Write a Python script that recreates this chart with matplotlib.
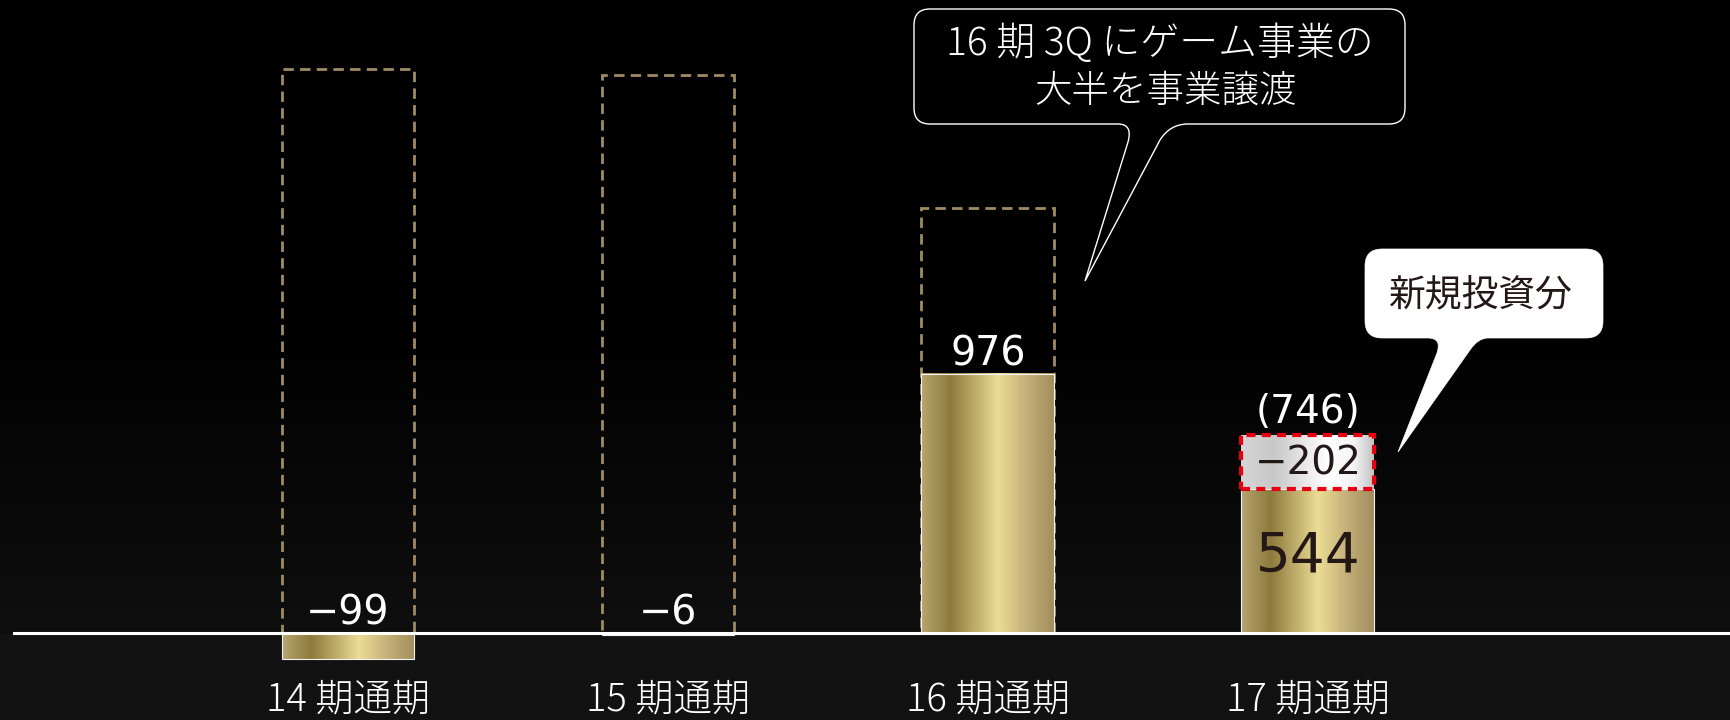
import numpy as np
import matplotlib
matplotlib.use("Agg")
import matplotlib.pyplot as plt
import matplotlib.transforms as mtransforms
from matplotlib.patches import Rectangle, PathPatch
from matplotlib.path import Path
from matplotlib.colors import LinearSegmentedColormap

# ---- data -------------------------------------------------------------
periods = ["14 期通期", "15 期通期", "16 期通期", "17 期通期"]
operating_profit = [-99, -6, 976, 544]
before_transfer = [2127, 2102, 1603, None]      # dashed outline (game business incl.)
new_investment = [0, 0, 0, 202]                  # stacked on top of the 17 bar
value_labels = ["−99", "−6", "976", "544"]
investment_label = "−202"
excl_investment_label = "(746)"
note_transfer = ["16 期 3Q にゲーム事業の", "大半を事業譲渡"]
note_investment = "新規投資分"

plt.rcParams["lines.scale_dashes"] = False

W, H, DPI = 1731, 720, 100
fig = plt.figure(figsize=(W / DPI, H / DPI), dpi=DPI)
fig.patch.set_facecolor("black")
ax = fig.add_axes([0, 0, 1, 1])
ax.axis("off")

# pixel coordinates (origin top-left) for the callouts
pix = mtransforms.Affine2D().scale(1 / DPI, -1 / DPI).translate(0, H / DPI) + fig.dpi_scale_trans

# background: black fading to dark grey towards the baseline
rows = np.arange(H)
shade = np.where(rows < 320, 0.0, np.clip((rows - 320) / (633 - 320), 0, 1) * 15 / 255)
shade = np.where(rows > 633, 18 / 255, shade)
bg = np.repeat(shade[:, None], 4, axis=1)
ax.imshow(np.dstack([bg, bg, bg]), extent=(0, 1, 0, 1), transform=ax.transAxes,
          aspect="auto", zorder=0, interpolation="bilinear")

gold = LinearSegmentedColormap.from_list(
    "gold", [(0, "#b8a570"), (0.22, "#8d7a3c"), (0.58, "#ecdc95"),
             (0.8, "#c4af78"), (1.0, "#a28e5e")])
silver = LinearSegmentedColormap.from_list(
    "silver", [(0, "#d6d6d6"), (0.25, "#c8c8c8"), (0.65, "#ffffff"),
               (0.85, "#f4f4f4"), (1.0, "#c2c2c2")])
grad = np.linspace(0, 1, 256)[None, :]

x = np.arange(len(periods))
w = 0.4156

for xi, v, b in zip(x, operating_profit, before_transfer):
    if b is not None:
        ax.add_patch(Rectangle((xi - w / 2, 0), w, b, fill=False, edgecolor="#a08c62",
                               lw=2.0, linestyle=(0, (7.5, 4.5)), zorder=1.5))
    lo, hi = min(0, v), max(0, v)
    ax.imshow(grad, cmap=gold, extent=(xi - w / 2, xi + w / 2, lo, hi),
              aspect="auto", zorder=2, interpolation="bilinear")
    ax.add_patch(Rectangle((xi - w / 2, lo), w, hi - lo, fill=False,
                           edgecolor="#f2f2f2", lw=0.8, zorder=3))

# new-investment segment on the 17 bar
inv_base = operating_profit[3]
inv_top = inv_base + new_investment[3]
ax.imshow(grad, cmap=silver, extent=(x[3] - w / 2, x[3] + w / 2, inv_base, inv_top),
          aspect="auto", zorder=2, interpolation="bilinear")
ax.add_patch(Rectangle((x[3] - w / 2, inv_base), w, new_investment[3], fill=False,
                       edgecolor="#e60012", lw=3.0, linestyle=(0, (6.5, 4.5)), zorder=5))

# baseline
ax.axhline(0, xmin=14 / W, xmax=1, color="white", lw=2.2, zorder=4)

num_font = "DejaVu Sans"
for i, (xi, v, lab) in enumerate(zip(x, operating_profit, value_labels)):
    if i == 3:
        ax.annotate(lab, (xi, 0), xytext=(0, 61.3 * 0.72), textcoords="offset points",
                    ha="center", va="baseline", fontsize=39.5, color="#231815",
                    family=num_font, zorder=6)
    else:
        ax.annotate(lab, (xi, max(v, 0)), xytext=(0, 8.8 * 0.72), textcoords="offset points",
                    ha="center", va="baseline", fontsize=28.5, color="white",
                    family=num_font, zorder=6)

ax.annotate(investment_label, (x[3], inv_base), xytext=(0, 14 * 0.72),
            textcoords="offset points", ha="center", va="baseline", fontsize=28,
            color="#231815", family=num_font, zorder=6)
ax.annotate(excl_investment_label, (x[3], inv_top), xytext=(0, 12.5 * 0.72),
            textcoords="offset points", ha="center", va="baseline", fontsize=28,
            color="white", family=num_font, zorder=6)

cjk = ["Noto Sans CJK JP", "DejaVu Sans"]
for xi, p in zip(x, periods):
    ax.annotate(p, (xi, 0), xytext=(0, -67 * 0.72), textcoords="offset points",
                ha="center", va="center", fontsize=27.5, color="white",
                family=cjk, fontweight="light", zorder=6)


def bubble(x0, y0, x1, y1, r, tail):
    """Rounded box with a pointer; tail is a list of (code, point) along the bottom edge."""
    verts = [(x0 + r, y0), (x1 - r, y0), (x1, y0), (x1, y0 + r), (x1, y1 - r),
             (x1, y1), (x1 - r, y1)]
    codes = [Path.MOVETO, Path.LINETO, Path.CURVE3, Path.CURVE3, Path.LINETO,
             Path.CURVE3, Path.CURVE3]
    for c, p in tail:
        codes.append(c)
        verts.append(p)
    verts += [(x0 + r, y1), (x0, y1), (x0, y1 - r), (x0, y0 + r), (x0, y0), (x0 + r, y0),
              (x0 + r, y0)]
    codes += [Path.LINETO, Path.CURVE3, Path.CURVE3, Path.LINETO, Path.CURVE3, Path.CURVE3,
              Path.CLOSEPOLY]
    return Path(verts, codes)


L, C = Path.LINETO, Path.CURVE3
tail1 = [(L, (1188, 124)), (C, (1170, 124)), (C, (1160, 140)), (L, (1085, 281)),
         (L, (1128, 142)), (C, (1133, 124)), (C, (1118, 124))]
fig.add_artist(PathPatch(bubble(914, 9, 1405, 124, 16, tail1), facecolor="black",
                         edgecolor="white", lw=1.0, transform=pix, zorder=7))
fig.text(1159.5, 44, note_transfer[0], transform=pix, ha="center", va="center",
         fontsize=28, color="white", family=cjk, fontweight="light", zorder=8)
fig.text(1166, 90.5, note_transfer[1], transform=pix, ha="center", va="center",
         fontsize=27, color="white", family=cjk, fontweight="light", zorder=8)

tail2 = [(L, (1488, 338)), (C, (1478, 338)), (C, (1470, 350)), (L, (1398, 452)),
         (L, (1437, 353)), (C, (1442, 338)), (C, (1428, 338))]
fig.add_artist(PathPatch(bubble(1365, 249, 1603, 338, 17, tail2), facecolor="white",
                         edgecolor="white", lw=0.5, transform=pix, zorder=7))
fig.text(1481, 295, note_investment, transform=pix, ha="center", va="center",
         fontsize=26.5, color="#231815", family=cjk, zorder=8)

ax.set_xlim(-1.0875, 4.3219)
ax.set_ylim(-327.8, 2385.4)

fig.savefig("out.png", dpi=DPI, facecolor=fig.get_facecolor())
